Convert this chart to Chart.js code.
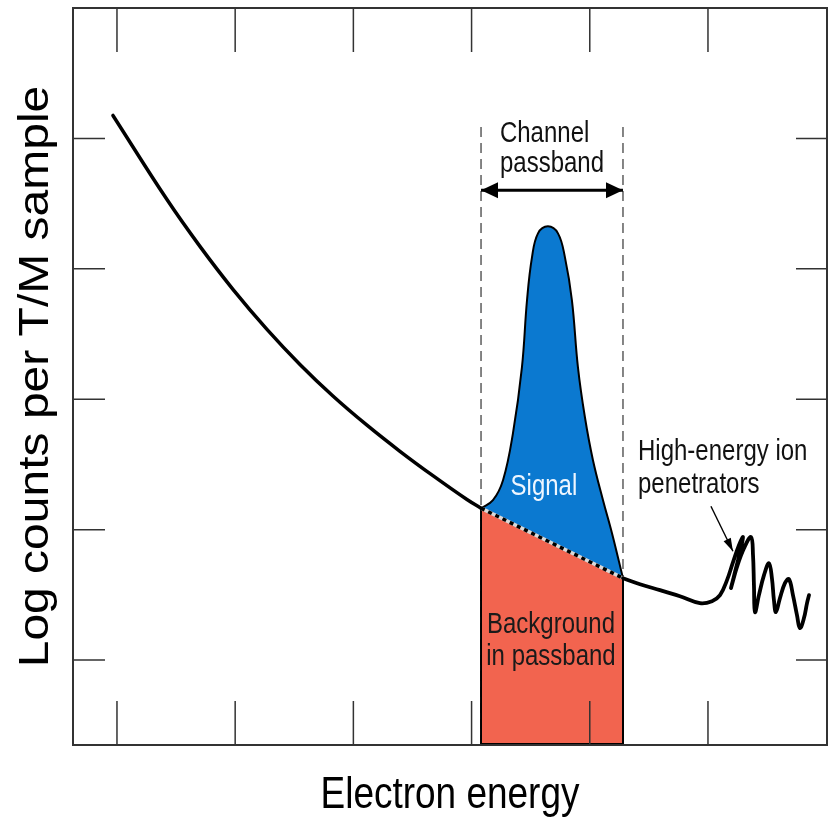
<!DOCTYPE html>
<html><head><meta charset="utf-8">
<script src="https://cdn.jsdelivr.net/npm/chart.js@4.4.0/dist/chart.umd.min.js"></script>
<style>html,body{margin:0;padding:0;background:#fff;}#wrap{width:835px;height:818px;}</style>
</head><body><div id="wrap"><canvas id="c" width="835" height="818"></canvas></div>
<script>
// ---- axis setup (arbitrary units, no labels in the original) ----
const xTicks = [1, 2, 3, 4, 5, 6];
const yTicks = [1, 2, 3, 4, 5];
const xRange = [0.628, 7.007];
const yRange = [0.349, 6.0];

// ---- background spectrum, left of the passband ----
const leftCurveX = [0.966, 1.423, 1.702, 1.981, 2.269, 2.548, 2.827, 3.115, 3.394, 3.673, 3.961, 4.080];
const leftCurveY = [5.176, 4.531, 4.172, 3.843, 3.536, 3.267, 3.025, 2.801, 2.601, 2.414, 2.231, 2.165];

// ---- signal peak inside passband ----
const peakX = [4.080, 4.181, 4.266, 4.350, 4.426, 4.469, 4.511, 4.562, 4.646, 4.731, 4.790, 4.849, 4.900, 4.959, 5.027, 5.112, 5.188, 5.281];
const peakY = [2.165, 2.226, 2.379, 2.739, 3.245, 3.759, 4.088, 4.272, 4.326, 4.272, 4.088, 3.759, 3.245, 2.862, 2.533, 2.226, 1.973, 1.628];

// ---- background level inside passband ----
const bgX = [4.080, 5.281];
const bgY = [2.165, 1.628];

// ---- spectrum right of the passband incl. ion penetrator spikes ----
const rightCurveX = [5.281, 5.425, 5.594, 5.763, 5.932, 6.034, 6.102, 6.161, 6.212, 6.262, 6.296, 6.271, 6.228, 6.195, 6.245, 6.305, 6.364, 6.381, 6.389, 6.398, 6.431, 6.474, 6.516, 6.541, 6.558, 6.575, 6.609, 6.651, 6.685, 6.719, 6.753, 6.778, 6.812, 6.838, 6.855];
const rightCurveY = [1.628, 1.582, 1.536, 1.490, 1.437, 1.452, 1.498, 1.613, 1.751, 1.881, 1.943, 1.828, 1.674, 1.552, 1.713, 1.858, 1.943, 1.805, 1.575, 1.368, 1.498, 1.651, 1.743, 1.628, 1.460, 1.368, 1.475, 1.590, 1.621, 1.498, 1.345, 1.245, 1.322, 1.437, 1.498];

// ---- annotations ----
const passbandEdges = [4.080, 5.281];
const passbandTop = 5.130;
const passbandArrowY = 4.602;
const pointerX = [6.025, 6.211];
const pointerY = [2.180, 1.835];

const xTitle = 'Electron energy';
const yTitle = 'Log counts per T/M sample';
const labels = [
  { text: 'Channel', x: 4.240, y: 4.969, align: 'left', color: '#111111' },
  { text: 'passband', x: 4.240, y: 4.739, align: 'left', color: '#111111' },
  { text: 'Signal', x: 4.612, y: 2.264, align: 'center', color: '#eef6ff' },
  { text: 'Background', x: 4.672, y: 1.207, align: 'center', color: '#1a1a1a' },
  { text: 'in passband', x: 4.672, y: 0.962, align: 'center', color: '#1a1a1a' },
  { text: 'High-energy ion', x: 5.408, y: 2.533, align: 'left', color: '#111111' },
  { text: 'penetrators', x: 5.408, y: 2.280, align: 'left', color: '#111111' }
];

const FONT = '"Liberation Sans", Arial, Helvetica, sans-serif';
const BLUE = '#0b79d0';
const RED = '#f2644f';

const zip = (xs, ys) => xs.map((v, i) => ({ x: v, y: ys[i] }));

function ds(data, o) {
  return Object.assign({
    data, showLine: true, pointRadius: 0, pointHoverRadius: 0,
    borderColor: '#000', borderWidth: 2, fill: false, tension: 0
  }, o);
}

const datasets = [
  /*0*/ ds([{ x: passbandEdges[0], y: yRange[0] }, { x: passbandEdges[0], y: passbandTop }], { borderColor: '#444', borderWidth: 1.3, borderDash: [10, 6], order: 20 }),
  /*1*/ ds([{ x: passbandEdges[1], y: yRange[0] }, { x: passbandEdges[1], y: passbandTop }], { borderColor: '#444', borderWidth: 1.3, borderDash: [10, 6], order: 20 }),
  /*2*/ ds(zip(bgX, bgY), { borderWidth: 0, fill: 'start', backgroundColor: RED, order: 19 }),
  /*3*/ ds([{ x: bgX[0], y: yRange[0] }, { x: bgX[0], y: bgY[0] }], { borderWidth: 2, order: 18 }),
  /*4*/ ds([{ x: bgX[1], y: yRange[0] }, { x: bgX[1], y: bgY[1] }], { borderWidth: 2, order: 18 }),
  /*5*/ ds([{ x: bgX[0], y: yRange[0] }, { x: bgX[1], y: yRange[0] }], { borderWidth: 4, order: 18 }),
  /*6*/ ds(zip(peakX, peakY), { borderWidth: 2, tension: 0.4, fill: 2, backgroundColor: BLUE, order: 17 }),
  /*7*/ ds(zip(bgX, bgY), { borderColor: '#d9d9d9', borderWidth: 3.5, order: 16 }),
  /*8*/ ds(zip(bgX, bgY), { borderColor: '#000', borderWidth: 3.5, borderDash: [4, 4], order: 15 }),
  /*9*/ ds(zip(leftCurveX, leftCurveY), { borderWidth: 3.5, tension: 0.4, borderCapStyle: 'round', borderJoinStyle: 'round', order: 14 }),
  /*10*/ ds(zip(rightCurveX, rightCurveY), { borderWidth: 3.8, tension: 0.4, borderCapStyle: 'round', borderJoinStyle: 'round', order: 14 }),
  /*11*/ ds(zip(pointerX, pointerY), { borderWidth: 1.4, order: 13 }),
  /*12*/ ds([{ x: passbandEdges[0], y: passbandArrowY }, { x: passbandEdges[1], y: passbandArrowY }], { borderWidth: 3, order: 13 })
];

function head(ctx, tx, ty, fx, fy, len, half) {
  const ang = Math.atan2(ty - fy, tx - fx);
  const c = Math.cos(ang), s = Math.sin(ang);
  const bx = tx - c * len, by = ty - s * len;
  ctx.beginPath();
  ctx.moveTo(tx, ty);
  ctx.lineTo(bx - s * half, by + c * half);
  ctx.lineTo(bx + s * half, by - c * half);
  ctx.closePath();
  ctx.fill();
}

function sqText(ctx, str, x, y, size, sq, align, color) {
  ctx.save();
  ctx.translate(x, y);
  ctx.scale(sq, 1);
  ctx.font = size + 'px ' + FONT;
  ctx.textAlign = align;
  ctx.textBaseline = 'alphabetic';
  ctx.fillStyle = color;
  ctx.fillText(str, 0, 0);
  ctx.restore();
}

const deco = {
  id: 'deco',
  afterDatasetsDraw(chart) {
    const { ctx, chartArea: a, scales: { x, y } } = chart;
    ctx.save();
    // tick marks pointing inward on all four sides
    ctx.strokeStyle = '#333';
    ctx.lineWidth = 1.5;
    ctx.beginPath();
    xTicks.forEach(v => {
      const px = x.getPixelForValue(v);
      ctx.moveTo(px, a.top); ctx.lineTo(px, a.top + 44);
      ctx.moveTo(px, a.bottom); ctx.lineTo(px, a.bottom - 44);
    });
    yTicks.forEach(v => {
      const py = y.getPixelForValue(v);
      ctx.moveTo(a.left, py); ctx.lineTo(a.left + 32, py);
      ctx.moveTo(a.right, py); ctx.lineTo(a.right - 31, py);
    });
    ctx.stroke();
    // frame
    ctx.lineWidth = 2;
    ctx.strokeRect(a.left, a.top, a.right - a.left, a.bottom - a.top);

    // arrowheads
    ctx.fillStyle = '#000';
    const ay = y.getPixelForValue(passbandArrowY);
    const l = x.getPixelForValue(passbandEdges[0]), r = x.getPixelForValue(passbandEdges[1]);
    head(ctx, l, ay, r, ay, 17, 8);
    head(ctx, r, ay, l, ay, 17, 8);
    const p0x = x.getPixelForValue(pointerX[0]), p0y = y.getPixelForValue(pointerY[0]);
    const p1x = x.getPixelForValue(pointerX[1]), p1y = y.getPixelForValue(pointerY[1]);
    head(ctx, p1x, p1y, p0x, p0y, 13, 4);

    // labels
    labels.forEach(L => sqText(ctx, L.text, x.getPixelForValue(L.x), y.getPixelForValue(L.y), 30, 0.8, L.align, L.color));

    // axis titles
    sqText(ctx, xTitle, (a.left + a.right) / 2, 808, 44, 0.84, 'center', '#000');
    ctx.save();
    ctx.translate(48, (a.top + a.bottom) / 2);
    ctx.scale(0.87, 1);
    ctx.rotate(-Math.PI / 2);
    ctx.font = '48px ' + FONT;
    ctx.textAlign = 'center';
    ctx.textBaseline = 'alphabetic';
    ctx.fillStyle = '#000';
    ctx.fillText(yTitle, 0, 0);
    ctx.restore();

    ctx.restore();
  }
};

new Chart(document.getElementById('c'), {
  type: 'scatter',
  data: { datasets },
  options: {
    responsive: false,
    devicePixelRatio: 1,
    animation: false,
    events: [],
    layout: { padding: { left: 73, top: 8, right: 8, bottom: 73 } },
    plugins: { legend: { display: false }, tooltip: { enabled: false }, title: { display: false } },
    scales: {
      x: { type: 'linear', display: false, min: xRange[0], max: xRange[1] },
      y: { type: 'linear', display: false, min: yRange[0], max: yRange[1] }
    }
  },
  plugins: [deco]
});
</script>
</body></html>
